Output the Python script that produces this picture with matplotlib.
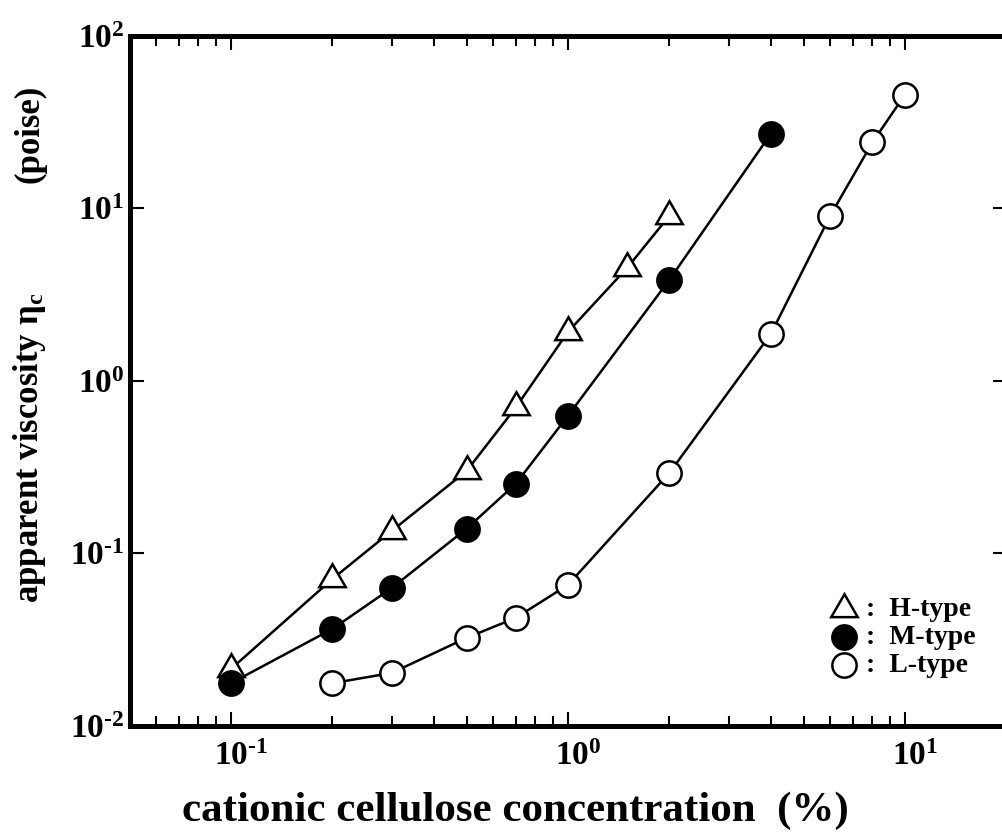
import math

import matplotlib
matplotlib.use('Agg')
import matplotlib.pyplot as plt
import matplotlib.transforms as mtransforms
from matplotlib.ticker import FuncFormatter, LogLocator, NullFormatter

plt.rcParams['font.family'] = ['Liberation Serif', 'DejaVu Serif']
plt.rcParams['font.weight'] = 'bold'
plt.rcParams['mathtext.fontset'] = 'custom'
plt.rcParams['mathtext.rm'] = 'Liberation Serif:bold'
plt.rcParams['mathtext.bf'] = 'Liberation Serif:bold'
plt.rcParams['mathtext.it'] = 'Liberation Serif:italic'

# data
conc_h = [0.1, 0.2, 0.3, 0.5, 0.7, 1.0, 1.5, 2.0]
visc_h = [0.0214, 0.0711, 0.135, 0.30, 0.70, 1.92, 4.52, 9.05]
conc_m = [0.1, 0.2, 0.3, 0.5, 0.7, 1.0, 2.0, 4.0]
visc_m = [0.0177, 0.0365, 0.063, 0.139, 0.253, 0.627, 3.85, 27.0]
conc_l = [0.2, 0.3, 0.5, 0.7, 1.0, 2.0, 4.0, 6.0, 8.0, 10.0]
visc_l = [0.0177, 0.0203, 0.0324, 0.0423, 0.0657, 0.293, 1.87, 9.05, 24.0, 45.5]
legend_labels = [':  H-type', ':  M-type', ':  L-type']

W, H = 1003, 835
fig = plt.figure(figsize=(W / 100, H / 100), dpi=100)
ax = fig.add_axes([129.5 / W, (H - 726) / H, 877 / W, 690.5 / H])

tri = (3, 0, 0)
styles = [
    dict(marker=tri, ms=22, mfc='white'),
    dict(marker='o', ms=17.5, mfc='black'),
    dict(marker='o', ms=17.5, mfc='white'),
]
line_kw = dict(color='black', lw=1.8, mew=1.8, mec='black', zorder=3)
ax.plot(conc_h, visc_h, **styles[0], **line_kw)
ax.plot(conc_m, visc_m, **styles[1], **line_kw)
ax.plot(conc_l, visc_l, **styles[2], **line_kw)

ax.set_xscale('log')
ax.set_yscale('log')
ax.set_xlim(0.05, 20)
ax.set_ylim(1e-2, 1e2)


def pow_label(v, pos):
    e = int(round(math.log10(v)))
    return r'$10^{\text{%d}}$' % e


ax.xaxis.set_major_locator(LogLocator(base=10, numticks=10))
ax.yaxis.set_major_locator(LogLocator(base=10, numticks=10))
ax.xaxis.set_minor_locator(LogLocator(base=10, subs=range(2, 10), numticks=20))
ax.xaxis.set_major_formatter(FuncFormatter(pow_label))
ax.yaxis.set_major_formatter(FuncFormatter(pow_label))
ax.xaxis.set_minor_formatter(NullFormatter())
ax.yaxis.set_minor_formatter(NullFormatter())

ax.tick_params(which='both', direction='in', width=1.5)
ax.tick_params(axis='x', which='both', top=True)
ax.tick_params(axis='y', which='major', right=True)
ax.tick_params(axis='y', which='minor', left=False, right=False)
ax.tick_params(which='major', length=10, labelsize=24)
ax.tick_params(which='minor', length=7)
ax.tick_params(axis='x', which='major', pad=11)
ax.tick_params(axis='y', which='major', pad=4)
for s in ax.spines.values():
    s.set_linewidth(3.6)

# shift x tick labels a little right, like the original
off = mtransforms.ScaledTranslation(10 / 100, 0, fig.dpi_scale_trans)
for lab in ax.get_xticklabels():
    lab.set_transform(lab.get_transform() + off)

fig.text(515 / W, (H - 811) / H, 'cationic cellulose concentration  (%)',
         fontsize=31, fontweight='bold', ha='center', va='center')
fig.text(30 / W, (H - 603) / H, r'apparent viscosity η$_{\mathrm{c}}$',
         fontsize=25, fontweight='bold', rotation=90, ha='center', va='bottom')
fig.text(30 / W, (H - 85) / H, '(poise)',
         fontsize=25, fontweight='bold', rotation=90, ha='center', va='top')

# legend drawn by hand in axes coordinates
leg_x = (844 - 129.5) / 877
txt_x = (866 - 129.5) / 877
leg_y = [(726 - 609) / 690.5, (726 - 637) / 690.5, (726 - 665) / 690.5]
for st, lab, yy in zip(styles, legend_labels, leg_y):
    ax.plot([leg_x], [yy], ls='none', mec='black', mew=1.8,
            transform=ax.transAxes, clip_on=False, **st)
    ax.text(txt_x, yy, lab, transform=ax.transAxes, fontsize=20,
            fontweight='bold', ha='left', va='center')

fig.savefig('out.png', dpi=100)
